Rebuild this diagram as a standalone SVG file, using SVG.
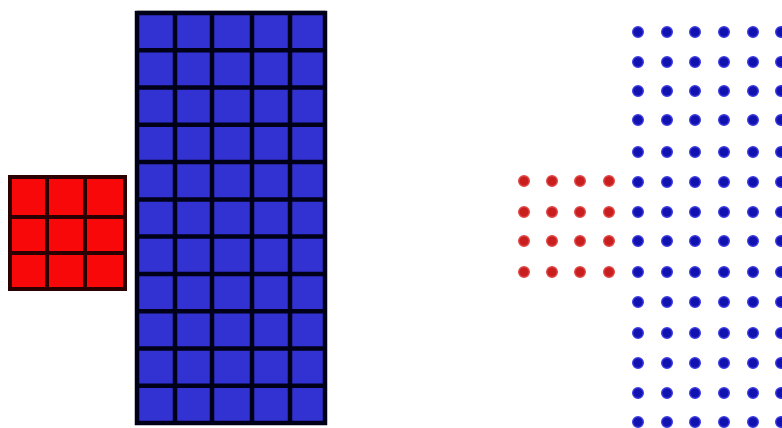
<svg xmlns="http://www.w3.org/2000/svg" xmlns:xlink="http://www.w3.org/1999/xlink" width="782" height="428" viewBox="0 0 782 428">
<style>
.bg{fill:#ffffff}
.redfill{fill:#f80808}
.bluefill{fill:#3232d2}
.rline{stroke:#2a0000;stroke-width:4;fill:none}
.bline{stroke:#000018;stroke-width:4.5;fill:none}
.bd{fill:#1212b0;stroke:#3a3ae0;stroke-width:1.4}
.rd{fill:#c81e1e;stroke:#e04848;stroke-width:1.4}
</style>
<defs>
<g id="brow">
<circle class="bd" cx="638" cy="0" r="5.3"/>
<circle class="bd" cx="667" cy="0" r="5.3"/>
<circle class="bd" cx="695" cy="0" r="5.3"/>
<circle class="bd" cx="724" cy="0" r="5.3"/>
<circle class="bd" cx="753" cy="0" r="5.3"/>
<circle class="bd" cx="781" cy="0" r="5.3"/>
</g>
<g id="rrow">
<circle class="rd" cx="524" cy="0" r="5.3"/>
<circle class="rd" cx="552" cy="0" r="5.3"/>
<circle class="rd" cx="580" cy="0" r="5.3"/>
<circle class="rd" cx="609" cy="0" r="5.3"/>
</g>
</defs>
<rect class="bg" x="0" y="0" width="782" height="428"/>
<g id="red-grid">
<rect class="redfill" x="10" y="177" width="115" height="112"/>
<path class="rline" d="M47 177V289M85 177V289M10 217H125M10 253H125"/>
<rect class="rline" x="10" y="177" width="115" height="112"/>
</g>
<g id="blue-grid">
<line x1="137" y1="11" x2="325" y2="11" stroke="#c8c8c8" stroke-width="1.5"/>
<rect class="bluefill" x="137" y="13" width="188" height="410"/>
<path class="bline" d="M175 13V423M212 13V423M252 13V423M290 13V423M137 50.3H325M137 87.5H325M137 124.8H325M137 162.1H325M137 199.4H325M137 236.6H325M137 273.9H325M137 311.2H325M137 348.5H325M137 385.7H325"/>
<rect class="bline" x="137" y="13" width="188" height="410"/>
</g>
<g id="blue-dots">
<use xlink:href="#brow" href="#brow" y="32"/>
<use xlink:href="#brow" href="#brow" y="62"/>
<use xlink:href="#brow" href="#brow" y="91"/>
<use xlink:href="#brow" href="#brow" y="120"/>
<use xlink:href="#brow" href="#brow" y="152"/>
<use xlink:href="#brow" href="#brow" y="182"/>
<use xlink:href="#brow" href="#brow" y="212"/>
<use xlink:href="#brow" href="#brow" y="241"/>
<use xlink:href="#brow" href="#brow" y="272"/>
<use xlink:href="#brow" href="#brow" y="302"/>
<use xlink:href="#brow" href="#brow" y="333"/>
<use xlink:href="#brow" href="#brow" y="363"/>
<use xlink:href="#brow" href="#brow" y="393"/>
<use xlink:href="#brow" href="#brow" y="422"/>
</g>
<g id="red-dots">
<use xlink:href="#rrow" href="#rrow" y="181"/>
<use xlink:href="#rrow" href="#rrow" y="212"/>
<use xlink:href="#rrow" href="#rrow" y="241"/>
<use xlink:href="#rrow" href="#rrow" y="272"/>
</g>
</svg>
